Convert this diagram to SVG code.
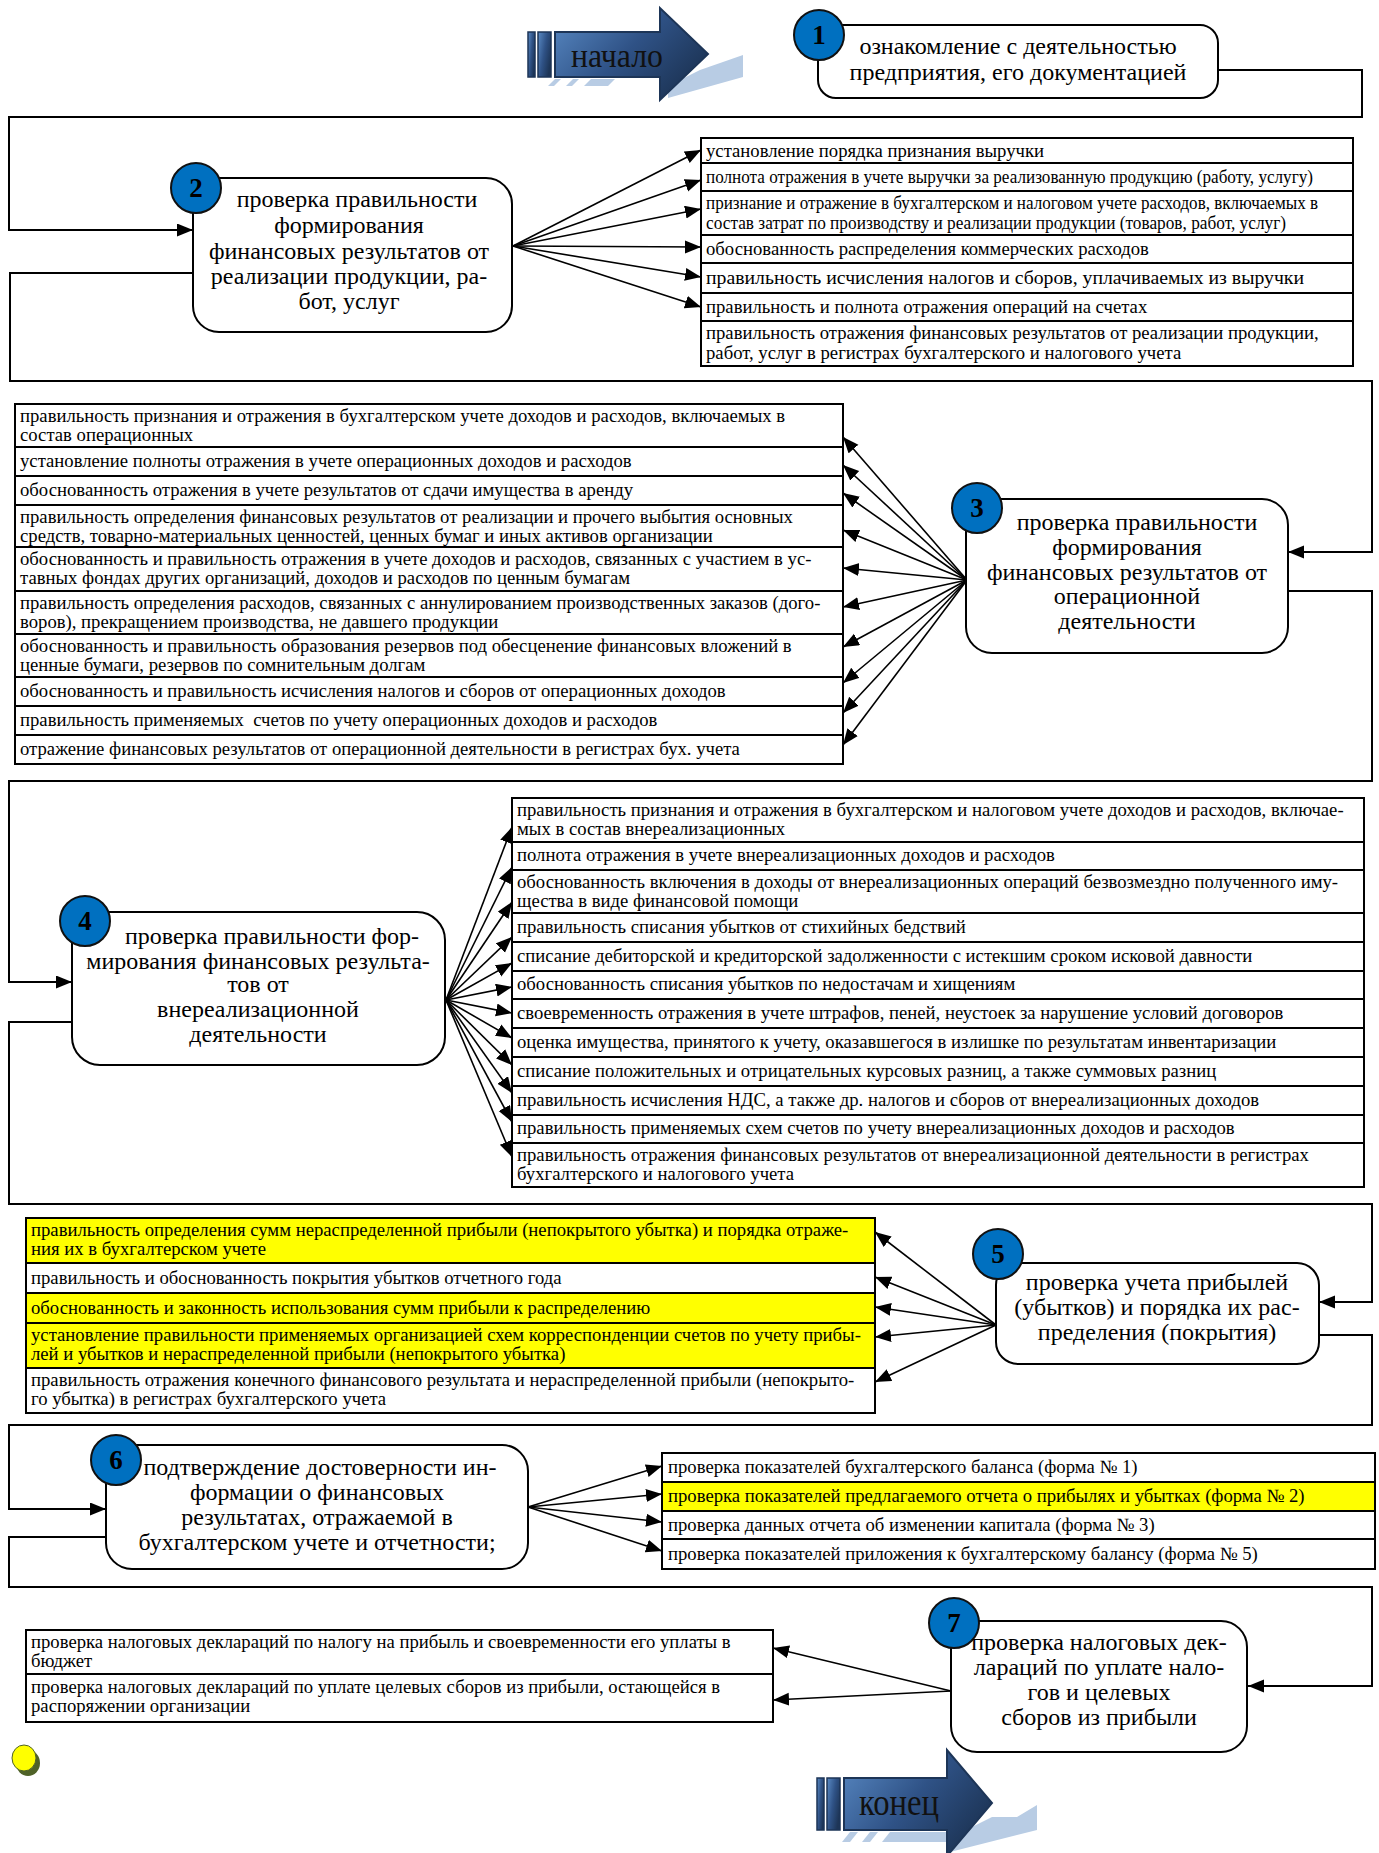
<svg xmlns="http://www.w3.org/2000/svg" width="1379" height="1853" viewBox="0 0 1379 1853">
<defs>
<style>
.t{font-family:"Liberation Serif","Times New Roman",serif;font-size:18.7px;fill:#000}
.n{font-family:"Liberation Serif","Times New Roman",serif;font-size:24px;fill:#000;text-anchor:middle}
.num{font-family:"Liberation Serif","Times New Roman",serif;font-size:27px;font-weight:bold;fill:#000;text-anchor:middle}
.box{fill:#fff;stroke:#000;stroke-width:2}
.cell{fill:#fff;stroke:#000;stroke-width:2}
.yel{fill:#ffff00;stroke:#000;stroke-width:2}
.circ{fill:#0070c0;stroke:#111;stroke-width:2}
.fan{stroke:#000;stroke-width:1.6;fill:none;marker-end:url(#ah)}
.conn{stroke:#000;stroke-width:2;fill:none;marker-end:url(#ah)}
.big{font-family:"Liberation Serif","Times New Roman",serif;fill:#111}
.sh{fill:#b8cce4}
</style>
<marker id="ah" markerUnits="userSpaceOnUse" markerWidth="17" markerHeight="14" refX="16" refY="6.5" orient="auto">
<path d="M0,0 L16,6.5 L0,13 z" fill="#000"/>
</marker>
<linearGradient id="bl" x1="0" y1="0" x2="1" y2="0.6">
<stop offset="0" stop-color="#5a8bc6"/>
<stop offset="0.55" stop-color="#2f5286"/>
<stop offset="1" stop-color="#1d3557"/>
</linearGradient>
</defs>

<!-- start arrow -->
<g id="start">
<polygon class="sh" points="700,70 743,55 743,77 668,98 668,86"/>
<polygon class="sh" points="548,86 555,79 561,79 554,86"/>
<polygon class="sh" points="566,86 573,79 579,79 572,86"/>
<polygon class="sh" points="584,86 591,79 615,79 608,86"/>
<rect x="528" y="32" width="7" height="45" fill="url(#bl)" stroke="#1d3557" stroke-width="1.5"/>
<rect x="538" y="32" width="13" height="45" fill="url(#bl)" stroke="#1d3557" stroke-width="1.5"/>
<polygon points="555,32 660,32 660,8 708,54 660,100 660,77 555,77" fill="url(#bl)" stroke="#1d3557" stroke-width="2"/>
<text class="big" x="571" y="67" font-size="34" textLength="92" lengthAdjust="spacingAndGlyphs">начало</text>
</g>

<!-- connectors -->
<g id="connectors">
<path class="conn" d="M1218,70 H1362 V117 H9 V230 H193"/>
<path class="conn" d="M193,273 H10 V381 H1372 V552 H1288"/>
<path class="conn" d="M1288,591 H1372 V781 H9 V982 H72"/>
<path class="conn" d="M72,1022 H9 V1204 H1372 V1302 H1319"/>
<path class="conn" d="M1319,1335 H1372 V1425 H9 V1509 H106"/>
<path class="conn" d="M106,1537 H9 V1587 H1372 V1686 H1248"/>
<!-- fan 2 -->
<path class="fan" d="M513,246 L701,150"/>
<path class="fan" d="M513,246 L701,180"/>
<path class="fan" d="M513,246 L701,209"/>
<path class="fan" d="M513,246 L701,247"/>
<path class="fan" d="M513,246 L701,277"/>
<path class="fan" d="M513,246 L701,307"/>
<!-- fan 3 -->
<path class="fan" d="M967,580 L843,437"/>
<path class="fan" d="M967,580 L843,465"/>
<path class="fan" d="M967,580 L843,493"/>
<path class="fan" d="M967,580 L843,530"/>
<path class="fan" d="M967,580 L843,568"/>
<path class="fan" d="M967,580 L843,607"/>
<path class="fan" d="M967,580 L843,647"/>
<path class="fan" d="M967,580 L843,683"/>
<path class="fan" d="M967,580 L843,713"/>
<path class="fan" d="M967,580 L843,745"/>
<!-- fan 4 -->
<path class="fan" d="M446,1000 L512,827"/>
<path class="fan" d="M446,1000 L512,867"/>
<path class="fan" d="M446,1000 L512,902"/>
<path class="fan" d="M446,1000 L512,937"/>
<path class="fan" d="M446,1000 L512,963"/>
<path class="fan" d="M446,1000 L512,987"/>
<path class="fan" d="M446,1000 L512,1013"/>
<path class="fan" d="M446,1000 L512,1038"/>
<path class="fan" d="M446,1000 L512,1065"/>
<path class="fan" d="M446,1000 L512,1093"/>
<path class="fan" d="M446,1000 L512,1122"/>
<path class="fan" d="M446,1000 L512,1157"/>
<!-- fan 5 -->
<path class="fan" d="M996,1325 L875,1232"/>
<path class="fan" d="M996,1325 L875,1277"/>
<path class="fan" d="M996,1325 L875,1307"/>
<path class="fan" d="M996,1325 L875,1337"/>
<path class="fan" d="M996,1325 L875,1382"/>
<!-- fan 6 -->
<path class="fan" d="M528,1507 L662,1466"/>
<path class="fan" d="M528,1507 L662,1494"/>
<path class="fan" d="M528,1507 L662,1522"/>
<path class="fan" d="M528,1507 L662,1551"/>
<!-- fan 7 -->
<path class="fan" d="M951,1691 L773,1648"/>
<path class="fan" d="M951,1691 L773,1700"/>
</g>

<!-- node 1 -->
<g id="node1">
<rect class="box" x="818" y="25" width="400" height="73" rx="18"/>
<circle class="circ" cx="819" cy="35" r="25"/>
<text class="num" x="819" y="44">1</text>
<text class="n" x="1018" y="54">ознакомление с деятельностью</text>
<text class="n" x="1018" y="80">предприятия, его документацией</text>
</g>

<!-- node 2 -->
<g id="node2">
<rect class="box" x="193" y="178" width="319" height="154" rx="26"/>
<circle class="circ" cx="196" cy="188" r="25"/>
<text class="num" x="196" y="197">2</text>
<text class="n" x="357" y="207">проверка правильности</text>
<text class="n" x="349" y="233">формирования</text>
<text class="n" x="349" y="259">финансовых результатов от</text>
<text class="n" x="349" y="284">реализации продукции, ра-</text>
<text class="n" x="349" y="309">бот, услуг</text>
</g>
<g id="list2">
<rect class="cell" x="701" y="138" width="652" height="25"/>
<rect class="cell" x="701" y="163" width="652" height="28"/>
<rect class="cell" x="701" y="191" width="652" height="44"/>
<rect class="cell" x="701" y="235" width="652" height="28"/>
<rect class="cell" x="701" y="263" width="652" height="30"/>
<rect class="cell" x="701" y="293" width="652" height="28"/>
<rect class="cell" x="701" y="321" width="652" height="45"/>
<text class="t" x="706" y="157">установление порядка признания выручки</text>
<text class="t" x="706" y="183" textLength="607" lengthAdjust="spacingAndGlyphs">полнота отражения в учете выручки за реализованную продукцию (работу, услугу)</text>
<text class="t" x="706" y="209" textLength="612" lengthAdjust="spacingAndGlyphs">признание и отражение в бухгалтерском и налоговом учете расходов, включаемых в</text>
<text class="t" x="706" y="229" textLength="580" lengthAdjust="spacingAndGlyphs">состав затрат по производству и реализации продукции (товаров, работ, услуг)</text>
<text class="t" x="706" y="255">обоснованность распределения коммерческих расходов</text>
<text class="t" x="706" y="284" textLength="598" lengthAdjust="spacingAndGlyphs">правильность исчисления налогов и сборов, уплачиваемых из выручки</text>
<text class="t" x="706" y="313">правильность и полнота отражения операций на счетах</text>
<text class="t" x="706" y="339">правильность отражения финансовых результатов от реализации продукции,</text>
<text class="t" x="706" y="359">работ, услуг в регистрах бухгалтерского и налогового учета</text>
</g>

<!-- node 3 -->
<g id="node3">
<rect class="box" x="966" y="499" width="322" height="154" rx="26"/>
<circle class="circ" cx="977" cy="508" r="25"/>
<text class="num" x="977" y="517">3</text>
<text class="n" x="1137" y="530">проверка правильности</text>
<text class="n" x="1127" y="555">формирования</text>
<text class="n" x="1127" y="580">финансовых результатов от</text>
<text class="n" x="1127" y="604">операционной</text>
<text class="n" x="1127" y="629">деятельности</text>
</g>
<g id="list3">
<rect class="cell" x="15" y="404" width="828" height="43"/>
<rect class="cell" x="15" y="447" width="828" height="29"/>
<rect class="cell" x="15" y="476" width="828" height="29"/>
<rect class="cell" x="15" y="505" width="828" height="42"/>
<rect class="cell" x="15" y="547" width="828" height="44"/>
<rect class="cell" x="15" y="591" width="828" height="43"/>
<rect class="cell" x="15" y="634" width="828" height="43"/>
<rect class="cell" x="15" y="677" width="828" height="29"/>
<rect class="cell" x="15" y="706" width="828" height="29"/>
<rect class="cell" x="15" y="735" width="828" height="29"/>
<text class="t" x="20" y="422">правильность признания и отражения в бухгалтерском учете доходов и расходов, включаемых в</text>
<text class="t" x="20" y="441">состав операционных</text>
<text class="t" x="20" y="467">установление полноты отражения в учете операционных доходов и расходов</text>
<text class="t" x="20" y="496">обоснованность отражения в учете результатов от сдачи имущества в аренду</text>
<text class="t" x="20" y="523">правильность определения финансовых результатов от реализации и прочего выбытия основных</text>
<text class="t" x="20" y="542">средств, товарно-материальных ценностей, ценных бумаг и иных активов организации</text>
<text class="t" x="20" y="565">обоснованность и правильность отражения в учете доходов и расходов, связанных с участием в ус-</text>
<text class="t" x="20" y="584">тавных фондах других организаций, доходов и расходов по ценным бумагам</text>
<text class="t" x="20" y="609">правильность определения расходов, связанных с аннулированием производственных заказов (дого-</text>
<text class="t" x="20" y="628">воров), прекращением производства, не давшего продукции</text>
<text class="t" x="20" y="652">обоснованность и правильность образования резервов под обесценение финансовых вложений в</text>
<text class="t" x="20" y="671">ценные бумаги, резервов по сомнительным долгам</text>
<text class="t" x="20" y="697">обоснованность и правильность исчисления налогов и сборов от операционных доходов</text>
<text class="t" x="20" y="726" xml:space="preserve">правильность применяемых  счетов по учету операционных доходов и расходов</text>
<text class="t" x="20" y="755">отражение финансовых результатов от операционной деятельности в регистрах бух. учета</text>
</g>

<!-- node 4 -->
<g id="node4">
<rect class="box" x="72" y="912" width="373" height="153" rx="28"/>
<circle class="circ" cx="85" cy="921" r="25"/>
<text class="num" x="85" y="930">4</text>
<text class="n" x="272" y="944">проверка правильности фор-</text>
<text class="n" x="258" y="969">мирования финансовых результа-</text>
<text class="n" x="258" y="992">тов от</text>
<text class="n" x="258" y="1017">внереализационной</text>
<text class="n" x="258" y="1042">деятельности</text>
</g>
<g id="list4">
<rect class="cell" x="512" y="798" width="852" height="44"/>
<rect class="cell" x="512" y="842" width="852" height="28"/>
<rect class="cell" x="512" y="870" width="852" height="43"/>
<rect class="cell" x="512" y="913" width="852" height="29"/>
<rect class="cell" x="512" y="942" width="852" height="29"/>
<rect class="cell" x="512" y="971" width="852" height="28"/>
<rect class="cell" x="512" y="999" width="852" height="29"/>
<rect class="cell" x="512" y="1028" width="852" height="29"/>
<rect class="cell" x="512" y="1057" width="852" height="29"/>
<rect class="cell" x="512" y="1086" width="852" height="29"/>
<rect class="cell" x="512" y="1115" width="852" height="28"/>
<rect class="cell" x="512" y="1143" width="852" height="44"/>
<text class="t" x="517" y="816">правильность признания и отражения в бухгалтерском и налоговом учете доходов и расходов, включае-</text>
<text class="t" x="517" y="835">мых в состав внереализационных</text>
<text class="t" x="517" y="861">полнота отражения в учете внереализационных доходов и расходов</text>
<text class="t" x="517" y="888">обоснованность включения в доходы от внереализационных операций безвозмездно полученного иму-</text>
<text class="t" x="517" y="907">щества в виде финансовой помощи</text>
<text class="t" x="517" y="933">правильность списания убытков от стихийных бедствий</text>
<text class="t" x="517" y="962">списание дебиторской и кредиторской задолженности с истекшим сроком исковой давности</text>
<text class="t" x="517" y="990">обоснованность списания убытков по недостачам и хищениям</text>
<text class="t" x="517" y="1019">своевременность отражения в учете штрафов, пеней, неустоек за нарушение условий договоров</text>
<text class="t" x="517" y="1048">оценка имущества, принятого к учету, оказавшегося в излишке по результатам инвентаризации</text>
<text class="t" x="517" y="1077">списание положительных и отрицательных курсовых разниц, а также суммовых разниц</text>
<text class="t" x="517" y="1106">правильность исчисления НДС, а также др. налогов и сборов от внереализационных доходов</text>
<text class="t" x="517" y="1134">правильность применяемых схем счетов по учету внереализационных доходов и расходов</text>
<text class="t" x="517" y="1161">правильность отражения финансовых результатов от внереализационной деятельности в регистрах</text>
<text class="t" x="517" y="1180">бухгалтерского и налогового учета</text>
</g>

<!-- node 5 -->
<g id="node5">
<rect class="box" x="996" y="1263" width="323" height="101" rx="22"/>
<circle class="circ" cx="998" cy="1254" r="25"/>
<text class="num" x="998" y="1263">5</text>
<text class="n" x="1157" y="1290">проверка учета прибылей</text>
<text class="n" x="1157" y="1315">(убытков) и порядка их рас-</text>
<text class="n" x="1157" y="1340">пределения (покрытия)</text>
</g>
<g id="list5">
<rect class="yel" x="26" y="1218" width="849" height="45"/>
<rect class="cell" x="26" y="1263" width="849" height="30"/>
<rect class="yel" x="26" y="1293" width="849" height="30"/>
<rect class="yel" x="26" y="1323" width="849" height="45"/>
<rect class="cell" x="26" y="1368" width="849" height="45"/>
<text class="t" x="31" y="1236">правильность определения сумм нераспределенной прибыли (непокрытого убытка) и порядка отраже-</text>
<text class="t" x="31" y="1255">ния их в бухгалтерском учете</text>
<text class="t" x="31" y="1284">правильность и обоснованность покрытия убытков отчетного года</text>
<text class="t" x="31" y="1314">обоснованность и законность использования сумм прибыли к распределению</text>
<text class="t" x="31" y="1341">установление правильности применяемых организацией схем корреспонденции счетов по учету прибы-</text>
<text class="t" x="31" y="1360">лей и убытков и нераспределенной прибыли (непокрытого убытка)</text>
<text class="t" x="31" y="1386">правильность отражения конечного финансового результата и нераспределенной прибыли (непокрыто-</text>
<text class="t" x="31" y="1405">го убытка) в регистрах бухгалтерского учета</text>
</g>

<!-- node 6 -->
<g id="node6">
<rect class="box" x="106" y="1445" width="422" height="124" rx="26"/>
<circle class="circ" cx="116" cy="1460" r="25"/>
<text class="num" x="116" y="1469">6</text>
<text class="n" x="320" y="1475">подтверждение достоверности ин-</text>
<text class="n" x="317" y="1500">формации о финансовых</text>
<text class="n" x="317" y="1525">результатах, отражаемой в</text>
<text class="n" x="317" y="1550">бухгалтерском учете и отчетности;</text>
</g>
<g id="list6">
<rect class="cell" x="662" y="1453" width="713" height="29"/>
<rect class="yel" x="662" y="1482" width="713" height="29"/>
<rect class="cell" x="662" y="1511" width="713" height="28"/>
<rect class="cell" x="662" y="1539" width="713" height="30"/>
<text class="t" x="668" y="1473">проверка показателей бухгалтерского баланса (форма № 1)</text>
<text class="t" x="668" y="1502">проверка показателей предлагаемого отчета о прибылях и убытках (форма № 2)</text>
<text class="t" x="668" y="1531">проверка данных отчета об изменении капитала (форма № 3)</text>
<text class="t" x="668" y="1560">проверка показателей приложения к бухгалтерскому балансу (форма № 5)</text>
</g>

<!-- node 7 -->
<g id="node7">
<rect class="box" x="951" y="1621" width="296" height="131" rx="26"/>
<circle class="circ" cx="954" cy="1623" r="25"/>
<text class="num" x="954" y="1632">7</text>
<text class="n" x="1099" y="1650">проверка налоговых дек-</text>
<text class="n" x="1099" y="1675">лараций по уплате нало-</text>
<text class="n" x="1099" y="1700">гов и целевых</text>
<text class="n" x="1099" y="1725">сборов из прибыли</text>
</g>
<g id="list7">
<rect class="cell" x="26" y="1630" width="747" height="44"/>
<rect class="cell" x="26" y="1674" width="747" height="48"/>
<text class="t" x="31" y="1648">проверка налоговых деклараций по налогу на прибыль и своевременности его уплаты в</text>
<text class="t" x="31" y="1667">бюджет</text>
<text class="t" x="31" y="1693">проверка налоговых деклараций по уплате целевых сборов из прибыли, остающейся в</text>
<text class="t" x="31" y="1712">распоряжении организации</text>
</g>

<!-- yellow dot -->
<g id="dot">
<ellipse cx="28" cy="1763" rx="12" ry="13" fill="#4f6228"/>
<ellipse cx="24" cy="1758" rx="12" ry="13" fill="#ffff00" stroke="#4f6228" stroke-width="1"/>
</g>

<!-- end arrow -->
<g id="end">
<polygon class="sh" points="992,1817 1017,1817 1037,1805 1037,1830 950,1852 950,1838"/>
<polygon class="sh" points="842,1842 850,1832 858,1832 850,1842"/>
<polygon class="sh" points="862,1842 870,1832 878,1832 870,1842"/>
<polygon class="sh" points="882,1842 890,1832 947,1832 947,1842"/>
<rect x="817" y="1778" width="7" height="52" fill="url(#bl)" stroke="#1d3557" stroke-width="1.5"/>
<rect x="827" y="1778" width="13" height="52" fill="url(#bl)" stroke="#1d3557" stroke-width="1.5"/>
<polygon points="844,1778 947,1778 947,1750 992,1803 947,1856 947,1830 844,1830" fill="url(#bl)" stroke="#1d3557" stroke-width="2"/>
<text class="big" x="859" y="1815" font-size="38" textLength="80" lengthAdjust="spacingAndGlyphs">конец</text>
</g>
</svg>
